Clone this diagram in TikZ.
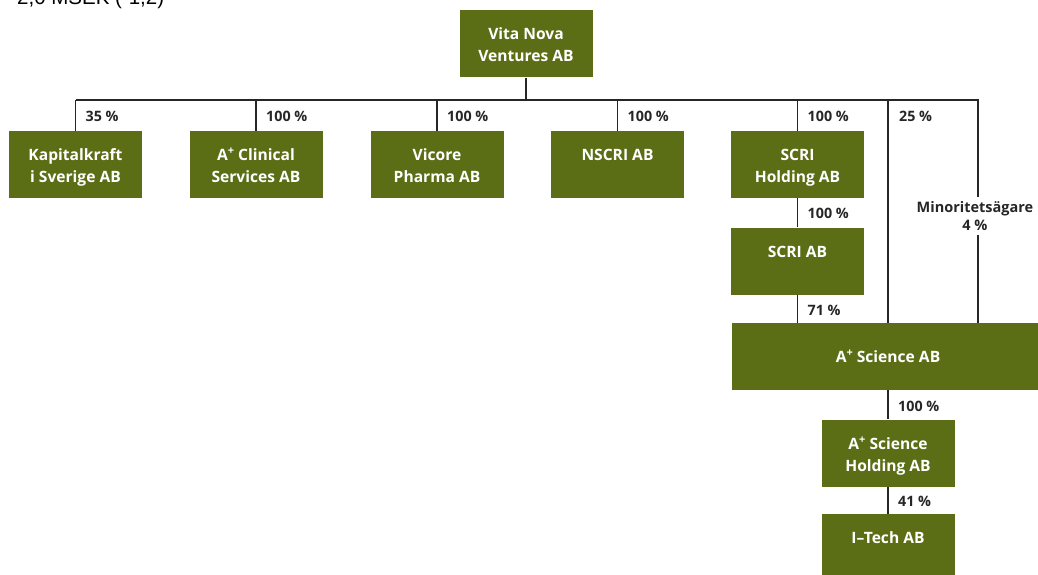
\documentclass[tikz,border=0pt]{standalone}
\usepackage{fontspec}
\setmainfont{Open Sans}
\newfontfamily\arialfont{Liberation Sans}
\definecolor{boxgreen}{HTML}{5B6E16}
\definecolor{linegray}{HTML}{262626}
\newcommand{\aplus}{A\raisebox{.38em}{\fontsize{11}{11}\selectfont+}}

\begin{document}
\begin{tikzpicture}[x=1pt,y=-1pt]

\tikzset{company/.style = {fill=boxgreen, text=white, align=center, inner sep=0pt,
    text height=37pt, text depth=1pt,
    minimum width=133pt, minimum height=67pt, font=\fontsize{15.6}{22}\selectfont\bfseries}}
\tikzset{share/.style = {anchor=west, inner sep=0pt, text=linegray,
    font=\fontsize{14.3}{16}\selectfont\bfseries}}
\tikzset{owner/.style = {draw=linegray, line width=1.5pt}}

\useasboundingbox (0,0) rectangle (1038,575);
\clip (0,0) rectangle (1038,575);

\node[anchor=base west, inner sep=0pt, font=\arialfont\fontsize{20.5}{22}\selectfont] (head) at (17,4.5) {2,0 MSEK (-1,2)};

\node[company] (vita) at (526,44) {Vita Nova\\Ventures AB};

\node[company] (kapital)  at (75.5,164.5)  {Kapitalkraft\\i Sverige AB};
\node[company] (clinical) at (256,164.5)   {\aplus{} Clinical\\Services AB};
\node[company] (vicore)   at (437,164.5)   {Vicore\\Pharma AB};
\node[company] (nscri)    at (617.5,164.5) {NSCRI AB\\\mbox{}};
\node[company] (scrih)    at (797.5,164.5) {SCRI\\Holding AB};
\node[company] (scri)     at (797.5,261)   {SCRI AB\\\mbox{}};
\node[company, minimum width=312pt, text height=11.5pt, text depth=0pt] (sci) at (888,356.5) {\aplus{} Science AB};
\node[company] (scihold)  at (888,453)     {\aplus{} Science\\Holding AB};
\node[company] (itech)    at (888,547.5)   {I–Tech AB\\\mbox{}};

\node[align=center, inner sep=4pt, text=linegray, font=\fontsize{14.5}{18}\selectfont\bfseries] (minor) at (975,216) {Minoritetsägare\\4 \%};

\coordinate (busL) at (75.5,100);
\coordinate (busR) at (978,100);

% ownership lines
\draw[owner] (vita.south) -- (vita.south |- busL);
\draw[owner] (busL) -- (busR) -- (busR |- minor.north);
\foreach \c in {kapital,clinical,vicore,nscri,scrih,sci}
  \draw[owner] (\c.north) -- (\c.north |- busL);
\draw[owner] (busR |- minor.south) -- (busR |- sci.north);
\draw[owner] (scrih) -- (scri);
\draw[owner] (scri) -- (scri |- sci.north);
\draw[owner] (sci) -- (scihold);
\draw[owner] (scihold) -- (itech);

% shares
\node[share] (s1) at (85.5,116)  {35 \%};
\node[share] (s2) at (266,116)   {100 \%};
\node[share] (s3) at (447,116)   {100 \%};
\node[share] (s4) at (627.5,116) {100 \%};
\node[share] (s5) at (807.5,116) {100 \%};
\node[share] (s6) at (899,116)   {25 \%};
\node[share] (s7) at (807.5,213) {100 \%};
\node[share] (s8) at (807.5,310) {71 \%};
\node[share] (s9) at (898,406)   {100 \%};
\node[share] (s10) at (898,501)  {41 \%};

\end{tikzpicture}
\end{document}
